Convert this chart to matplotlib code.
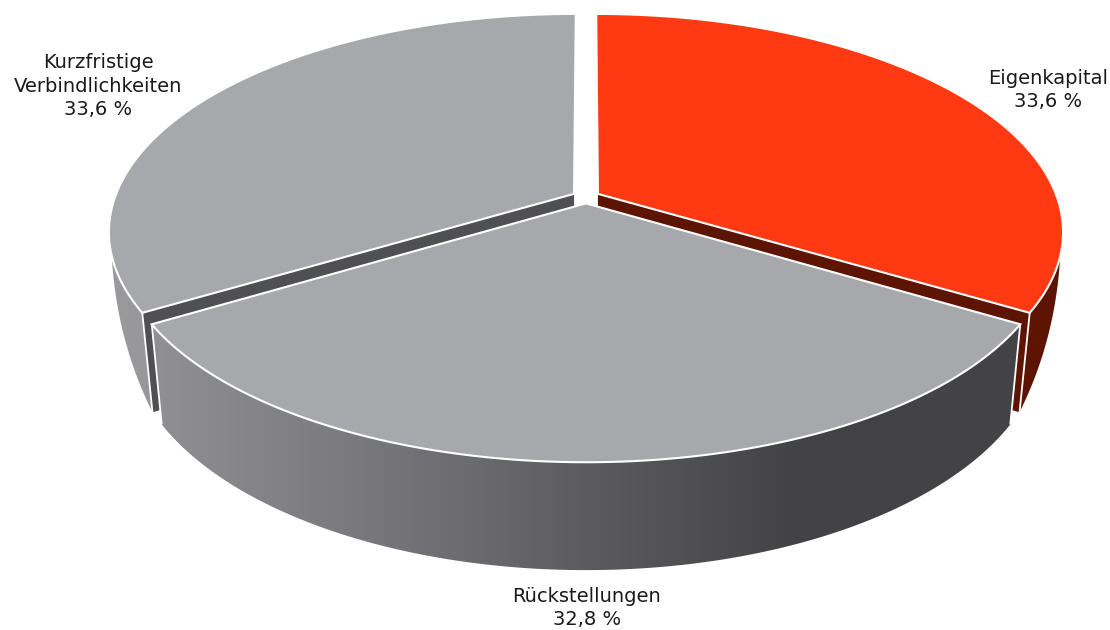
import numpy as np
import matplotlib
matplotlib.use("Agg")
import matplotlib.pyplot as plt
from matplotlib.patches import Polygon
from matplotlib.colors import LinearSegmentedColormap

categories = ["Eigenkapital", "Rückstellungen", "Kurzfristige\nVerbindlichkeiten"]
shares = [33.6, 32.8, 33.6]
value_labels = ["33,6 %", "32,8 %", "33,6 %"]

TOP = ["#ff3a12", "#a7a8ab", "#a7a8ab"]
CUT = ["#5e1403", "#505052", "#505052"]
SIDE = [["#5e1403", "#5e1403"],
        ["#909093", "#78787c", "#5c5c5f", "#424244", "#444446"],
        ["#9a9a9d", "#808083"]]
LABEL_POS = [(1048, 90), (587, 608), (98, 86)]

# projective view of the pie disc (pixel-space figure)
CX, K, B, A, C = 586.0, 459.0, 197.0, 178.0, 0.172
EXPLODE = 0.03
SX, SY_K, SY_O = 0.977, 1.056, 82.0
WALL_V0, WALL_V1 = -0.09, -0.515  # wall height tapers to nothing at the side extremes

fig = plt.figure(figsize=(11.1, 6.3), dpi=100)
ax = fig.add_axes([0, 0, 1, 1])
ax.axis("off")


def project(u, v):
    w = 1 + C * v
    return CX + K * u / w, (B - A * v) / w


def lower(x, y):
    return CX + SX * (x - CX), SY_K * y + SY_O


total = sum(shares)
starts = np.cumsum([0] + shares[:-1]) / total * 2 * np.pi
spans = np.array(shares) / total * 2 * np.pi
order = [0, 2, 1]  # back slices first, front slice on top
zs = 1
for i in order:
    a0 = np.pi / 2 - starts[i]
    a1 = a0 - spans[i]
    mid = (a0 + a1) / 2
    du, dv = EXPLODE * np.cos(mid), EXPLODE * np.sin(mid)
    th = np.linspace(a0, a1, 300)
    x, y = project(du + np.cos(th), dv + np.sin(th))
    xa, ya = project(du, dv)
    lx, ly = lower(x, y)
    lax, lay = lower(xa, ya)
    f = np.clip((WALL_V0 - np.sin(th)) / (WALL_V0 - WALL_V1), 0, 1)
    f = f ** 0.85
    wx, wy = x + (lx - x) * f, y + (ly - y) * f

    # cut faces that look towards the viewer (back edges stay hidden)
    front_ends = [k for k, a in ((0, a0), (-1, a1)) if np.sin(a) < 0.9]
    for k in front_ends:
        ax.add_patch(Polygon([(xa, ya), (x[k], y[k]), (lx[k], ly[k]), (lax, lay)], closed=True,
                             fc=CUT[i], ec="none", zorder=zs))
        zs += 1

    # outer wall with horizontal gradient
    wall = Polygon(np.r_[np.c_[x, y], np.c_[wx, wy][::-1]], closed=True, fc="none", ec="none", zorder=zs)
    ax.add_patch(wall)
    cmap = LinearSegmentedColormap.from_list("w", SIDE[i])
    x0, x1 = min(x.min(), wx.min()), max(x.max(), wx.max())
    im = ax.imshow(np.linspace(0, 1, 256)[None, :], cmap=cmap, aspect="auto", interpolation="bilinear",
                   extent=(x0, x1, max(y.max(), wy.max()) + 2, min(y.min(), wy.min()) - 2), zorder=zs)
    im.set_clip_path(wall)
    zs += 1
    for k in front_ends:
        ax.plot([x[k], lx[k]], [y[k], ly[k]], color="white", lw=1.3, solid_capstyle="butt", zorder=zs)
    zs += 1

    # top face
    ax.add_patch(Polygon(np.r_[[(xa, ya)], np.c_[x, y]], closed=True, fc=TOP[i], ec="white", lw=1.5,
                         joinstyle="miter", zorder=zs))
    zs += 1

ax.set_xlim(0, 1110)
ax.set_ylim(630, 0)

for name, val, (px, py) in zip(categories, value_labels, LABEL_POS):
    ax.text(px, py, f"{name}\n{val}", ha="center", va="center", fontsize=14, family="DejaVu Sans",
            color="#1a1a1a", linespacing=1.3, zorder=zs)

fig.savefig("out.png", dpi=100, facecolor="white")
